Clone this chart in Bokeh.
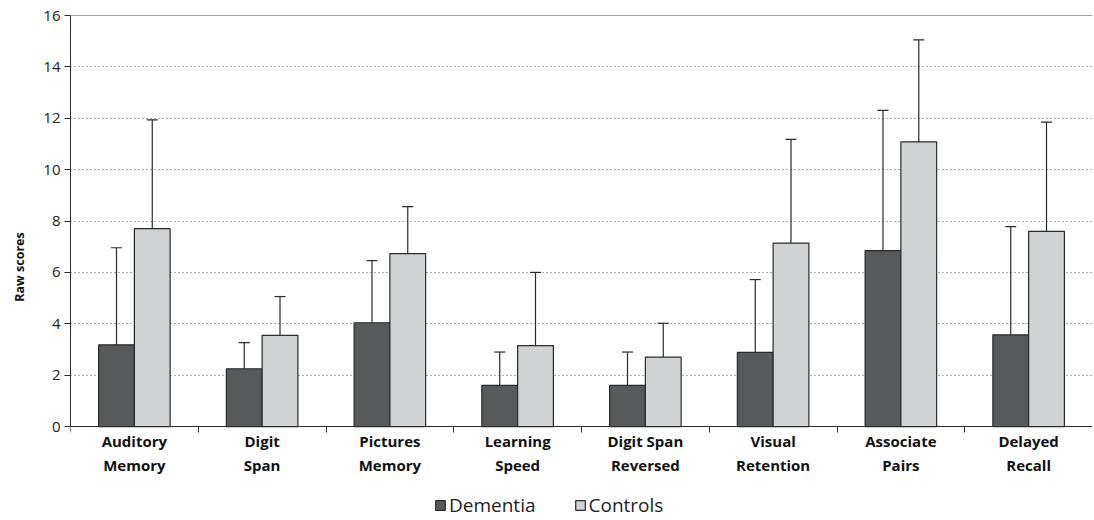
from bokeh.plotting import figure
from bokeh.models import (ColumnDataSource, Range1d, FixedTicker, Whisker, TeeHead,
                          Span, Legend, LegendItem)
from bokeh.embed import file_html
from bokeh.resources import INLINE

categories = ["Auditory\nMemory", "Digit\nSpan", "Pictures\nMemory", "Learning\nSpeed",
              "Digit Span\nReversed", "Visual\nRetention", "Associate\nPairs", "Delayed\nRecall"]
dementia_mean = [3.18, 2.25, 4.04, 1.60, 1.60, 2.89, 6.85, 3.57]
dementia_upper = [6.96, 3.27, 6.46, 2.90, 2.90, 5.72, 12.31, 7.78]
controls_mean = [7.70, 3.55, 6.73, 3.15, 2.70, 7.14, 11.08, 7.60]
controls_upper = [11.94, 5.06, 8.56, 6.00, 4.02, 11.18, 15.05, 11.85]
y_ticks = [0, 2, 4, 6, 8, 10, 12, 14, 16]

FONT = "Open Sans"
DARK = "#2b2a2a"
BAR_W = 0.28

n = len(categories)
centers = [i + 0.5 for i in range(n)]
x_dem = [c - BAR_W / 2 for c in centers]
x_con = [c + BAR_W / 2 for c in centers]

src_d = ColumnDataSource(dict(x=x_dem, top=dementia_mean, up=dementia_upper))
src_c = ColumnDataSource(dict(x=x_con, top=controls_mean, up=controls_upper))

# frame extends below the zero line so that labels and legend sit inside it
p = figure(frame_width=1022, frame_height=503, output_backend="svg", toolbar_location=None,
           x_range=Range1d(0, n), y_range=Range1d(-3.58, 16),
           min_border_left=70, min_border_top=15, min_border_right=0, min_border_bottom=0)
p.outline_line_color = None
p.background_fill_color = "white"

# error bars (upper only)
for src in (src_d, src_c):
    w = Whisker(source=src, base="x", lower="top", upper="up", dimension="height",
                line_color=DARK, line_width=1.2,
                upper_head=TeeHead(size=11, line_color=DARK, line_width=1.2), lower_head=None,
                level="underlay")
    p.add_layout(w)

r_d = p.vbar(x="x", top="top", width=BAR_W, bottom=0, source=src_d,
             fill_color="#58595b", line_color=DARK, line_width=1.2)
r_c = p.vbar(x="x", top="top", width=BAR_W, bottom=0, source=src_c,
             fill_color="#d1d2d4", line_color=DARK, line_width=1.2)

# grid
p.xgrid.visible = False
p.ygrid.ticker = FixedTicker(ticks=y_ticks[1:-1])
p.ygrid.grid_line_color = "#555555"
p.ygrid.grid_line_dash = "1 3"
p.ygrid.grid_line_width = 1
p.ygrid.level = "underlay"
p.add_layout(Span(location=16, dimension="width", line_color="#444444", line_width=1.2))

# y axis
ya = p.yaxis[0]
ya.ticker = FixedTicker(ticks=y_ticks)
ya.bounds = (0, 16)
ya.axis_label = "Raw scores"
ya.axis_label_text_font = FONT
ya.axis_label_text_font_style = "bold"
ya.axis_label_text_font_size = "12.5px"
ya.axis_label_text_color = "#111111"
ya.axis_label_text_align = "left"
ya.axis_label_standoff = 12
ya.major_label_text_font = FONT
ya.major_label_text_font_size = "15px"
ya.major_label_text_color = "#222222"
ya.major_label_standoff = 4
ya.major_tick_out = 6
ya.major_tick_in = 0
ya.minor_tick_out = 0
ya.minor_tick_in = 0
ya.axis_line_color = DARK
ya.major_tick_line_color = DARK

# x axis at y=0: labels at centers, ticks at boundaries
xa = p.xaxis[0]
xa.fixed_location = 0
xa.ticker = FixedTicker(ticks=centers, minor_ticks=list(range(n + 1)))
xa.major_label_overrides = {c: lab for c, lab in zip(centers, categories)}
xa.major_label_text_font = FONT
xa.major_label_text_font_style = "bold"
xa.major_label_text_font_size = "15px"
xa.major_label_text_color = "#111111"
xa.major_label_standoff = -2
xa.major_tick_out = 0
xa.major_tick_in = 0
xa.minor_tick_out = 6
xa.minor_tick_in = 0
xa.minor_tick_line_color = DARK
xa.axis_line_color = DARK

legend = Legend(items=[LegendItem(label="Dementia", renderers=[r_d]),
                       LegendItem(label="Controls", renderers=[r_c])],
                orientation="horizontal", location=(364, 0),
                glyph_width=12, glyph_height=12, label_standoff=3, spacing=38,
                padding=0, margin=0, border_line_color=None, background_fill_alpha=0,
                label_text_font=FONT, label_text_font_size="19px", label_text_color="#222222")
p.add_layout(legend, "center")

open("out.html", "w").write(file_html(p, INLINE))
